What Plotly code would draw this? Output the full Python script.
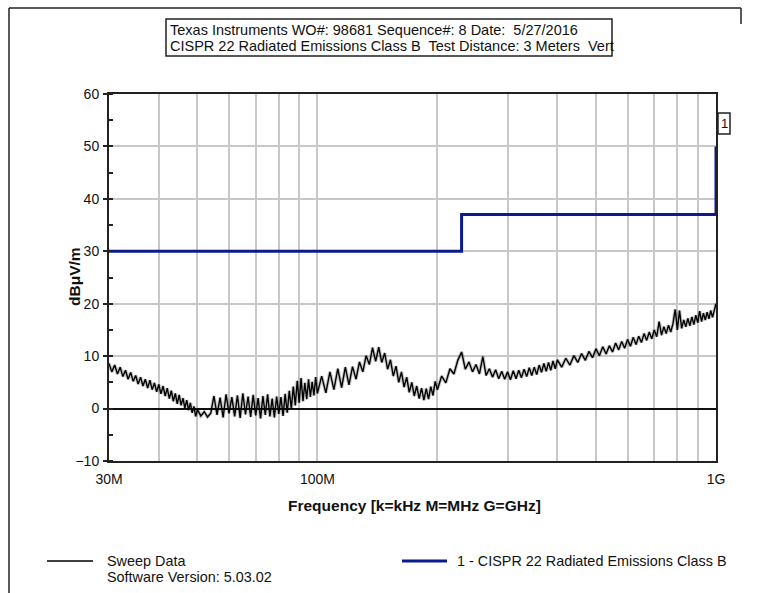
import plotly.graph_objects as go

# Sweep measurement (frequency in MHz, level in dBuV/m)
SWEEP_MHZ = [
    30.0, 30.5, 31.0, 31.5, 32.0, 32.5, 33.0, 33.5, 34.0, 34.5, 35.0, 35.5, 36.0, 36.5,
    37.0, 37.5, 38.0, 38.5, 39.0, 39.5, 40.0, 40.5, 41.0, 41.5, 42.0, 42.5, 43.0, 43.5,
    44.0, 44.5, 45.0, 45.5, 46.0, 46.5, 47.0, 47.5, 48.0, 48.5, 49.0, 49.5, 50.0,
    51, 52, 53, 54, 55, 56, 57, 58, 59, 60, 61, 62, 63, 64, 65, 66, 67, 68, 69, 70,
    71, 72, 73, 74, 75, 76, 77, 78, 79, 80, 81, 82, 83, 84, 85, 86, 87, 88, 89, 90,
    91, 92, 93, 94, 95, 96, 97, 98, 99, 100,
    102.5, 105, 107.5, 110, 112.5, 115, 117.5, 120, 122.5, 125, 127.5, 130, 132.5, 135,
    137.5, 140, 142.5, 145, 147.5, 150, 152.5, 155, 157.5, 160, 162.5, 165, 167.5, 170,
    172.5, 175, 177.5, 180, 182.5, 185, 187.5, 190, 192.5, 195, 197.5, 200,
    205, 210, 215, 220, 225, 230, 235, 240, 245, 250, 255, 260, 265, 270, 275, 280,
    285, 290, 295, 300, 305, 310, 315, 320, 325, 330, 335, 340, 345, 350, 355, 360,
    365, 370, 375, 380, 385, 390, 395, 400,
    410, 420, 430, 440, 450, 460, 470, 480, 490, 500, 510, 520, 530, 540, 550, 560,
    570, 580, 590, 600, 610, 620, 630, 640, 650, 660, 670, 680, 690, 700, 710, 720,
    730, 740, 750, 760, 770, 780, 790, 800, 810, 820, 830, 840, 850, 860, 870, 880,
    890, 900, 910, 920, 930, 940, 950, 960, 970, 980, 990, 1000,
]
SWEEP_DBUV = [
    8.6, 7.0, 8.3, 6.6, 7.9, 6.1, 7.3, 5.6, 6.9, 5.2, 6.3, 4.7, 6.0, 4.3,
    5.6, 3.9, 5.4, 3.6, 4.9, 3.2, 4.6, 2.8, 4.3, 2.4, 3.9, 1.9, 3.4, 1.4,
    2.9, 0.9, 2.6, 0.6, 2.0, 0.1, 1.6, -0.3, 1.1, -0.8, 0.4, -1.5, -0.2,
    -1.4, -0.6, -1.6, -0.9, 2.4, -1.2, 2.1, -1.7, 2.7, -0.9, 2.2, -1.5, 2.5, -1.8, 2.9,
    -1.1, 2.3, -1.6, 2.6, -1.3, 2.0, -1.9, 2.4, -1.2, 2.7, -1.5, 1.9, -1.7, 2.3, -1.0,
    2.2, -1.4, 2.8, -0.8, 3.4, 0.0, 4.2, 0.6, 5.3, 1.1, 5.8, 1.4, 4.9, 1.8, 5.6, 2.2,
    5.1, 2.5, 6.0, 2.9,
    6.2, 3.0, 7.0, 3.6, 7.6, 4.0, 7.9, 4.5, 8.0, 5.6, 8.9, 7.0, 10.1, 8.4,
    11.6, 9.0, 11.7, 8.8, 10.6, 7.5, 9.3, 6.2, 8.1, 5.0, 7.0, 4.1, 6.0, 3.1,
    5.0, 2.4, 4.3, 1.9, 3.9, 1.6, 3.8, 1.8, 4.2, 2.5, 5.2, 3.6,
    6.2, 4.9, 7.6, 6.6, 9.2, 10.8, 7.5, 8.9, 7.0, 8.4, 6.6, 9.9, 6.3, 7.6, 6.0, 7.4,
    5.7, 7.1, 5.6, 7.0, 5.5, 7.2, 5.7, 7.3, 5.9, 7.5, 6.1, 7.8, 6.3, 7.9, 6.5, 8.3,
    6.9, 8.6, 7.1, 8.8, 7.3, 9.1, 7.6, 9.3,
    7.9, 9.6, 8.3, 10.1, 8.8, 10.5, 9.2, 10.9, 9.7, 11.4, 10.1, 11.8, 10.4, 12.0, 10.8, 12.5,
    11.2, 12.8, 11.5, 13.2, 11.9, 13.6, 12.2, 13.8, 12.6, 14.3, 13.0, 14.6, 13.3, 15.0, 13.7, 16.6,
    14.0, 15.6, 14.3, 15.9, 14.6, 16.2, 18.9, 15.0, 18.7, 15.3, 16.9, 15.6, 17.2, 15.8, 17.5, 16.0,
    17.8, 16.4, 18.6, 16.6, 18.2, 16.9, 18.4, 17.1, 18.7, 17.4, 19.0, 20.0,
]

# CISPR 22 Class B radiated limit (3 m)
LIMIT_MHZ = [30, 230, 230, 1000, 1000]
LIMIT_DBUV = [30, 30, 37, 37, 50]

# Axis ticks / grid
GRID_MHZ = [30, 40, 50, 60, 70, 80, 90, 100, 200, 300, 400, 500, 600, 700, 800, 900, 1000]
TICK_LABELS = {30: "30M", 100: "100M", 1000: "1G"}

TITLE_LINES = [
    "Texas Instruments WO#: 98681 Sequence#: 8 Date:\u00a0 5/27/2016",
    "CISPR 22 Radiated Emissions Class B\u00a0 Test Distance: 3 Meters\u00a0 Vert",
]
LEGEND_SWEEP = "Sweep Data"
LEGEND_VERSION = "Software Version: 5.03.02"
LEGEND_LIMIT = "1 - CISPR 22 Radiated Emissions Class B"

FONT = "Arial, Liberation Sans, sans-serif"
NAVY = "#0b1a8e"

W, H = 758, 593
L, R, T, B = 109, 716, 94, 461
PW, PH = R - L, B - T


def px(x):
    return (x - L) / PW


def py(y):
    return (B - y) / PH


fig = go.Figure()
# soft halo under the sweep trace, then the trace itself
fig.add_trace(go.Scatter(x=SWEEP_MHZ, y=SWEEP_DBUV, mode="lines",
                         line=dict(color="rgba(0,0,0,0.22)", width=3.5), showlegend=False,
                         hoverinfo="skip"))
fig.add_trace(go.Scatter(x=SWEEP_MHZ, y=SWEEP_DBUV, mode="lines",
                         line=dict(color="black", width=1.4), showlegend=False))
fig.add_trace(go.Scatter(x=LIMIT_MHZ, y=LIMIT_DBUV, mode="lines",
                         line=dict(color=NAVY, width=3), showlegend=False,
                         cliponaxis=False))

shapes = []
annotations = []
line = dict(color="#222", width=1.5)

# outer page frame
shapes.append(dict(type="line", xref="paper", yref="paper", x0=px(9), x1=px(9),
                   y0=py(8), y1=py(600), line=line))
shapes.append(dict(type="line", xref="paper", yref="paper", x0=px(9), x1=px(741),
                   y0=py(8), y1=py(8), line=line))
shapes.append(dict(type="line", xref="paper", yref="paper", x0=px(741), x1=px(741),
                   y0=py(8), y1=py(24), line=line))

# title box
shapes.append(dict(type="rect", xref="paper", yref="paper", x0=px(166), x1=px(612),
                   y0=py(56), y1=py(19), line=dict(color="#222", width=1.5)))
for i, t in enumerate(TITLE_LINES):
    annotations.append(dict(text=t, xref="paper", yref="paper", x=px(168), y=py(30.5 + 15.5 * i),
                            xanchor="left", yanchor="middle", showarrow=False,
                            font=dict(family=FONT, size=14.5, color="#111")))

# limit line marker "1"
shapes.append(dict(type="line", xref="paper", yref="paper", x0=px(716), x1=px(718),
                   y0=py(123), y1=py(123), line=dict(color="#222", width=1.5)))
shapes.append(dict(type="rect", xref="paper", yref="paper", x0=px(718), x1=px(730),
                   y0=py(134), y1=py(113), line=dict(color="#222", width=1.5)))
annotations.append(dict(text="1", xref="paper", yref="paper", x=px(724), y=py(123.5),
                        xanchor="center", yanchor="middle", showarrow=False,
                        font=dict(family=FONT, size=13, color="#111")))

# axis titles
annotations.append(dict(text="<b>dBμV/m</b>", xref="paper", yref="paper", x=px(74), y=py(277),
                        textangle=-90, xanchor="center", yanchor="middle", showarrow=False,
                        font=dict(family=FONT, size=15.5, color="#111")))
annotations.append(dict(text="<b>Frequency [k=kHz M=MHz G=GHz]</b>", xref="paper", yref="paper",
                        x=px(414), y=py(505), xanchor="center", yanchor="middle", showarrow=False,
                        font=dict(family=FONT, size=15.5, color="#111")))

# legend
shapes.append(dict(type="line", xref="paper", yref="paper", x0=px(47), x1=px(93),
                   y0=py(561), y1=py(561), line=dict(color="black", width=1.5)))
shapes.append(dict(type="line", xref="paper", yref="paper", x0=px(402), x1=px(447),
                   y0=py(561), y1=py(561), line=dict(color=NAVY, width=3)))
for txt, x, y in [(LEGEND_SWEEP, 105, 561), (LEGEND_VERSION, 105, 577), (LEGEND_LIMIT, 455, 561)]:
    annotations.append(dict(text=txt, xref="paper", yref="paper", x=px(x), y=py(y),
                            xanchor="left", yanchor="middle", showarrow=False,
                            font=dict(family=FONT, size=14.4, color="#111")))

fig.update_layout(
    width=W, height=H,
    margin=dict(l=L, r=W - R, t=T, b=H - B, pad=0),
    paper_bgcolor="white", plot_bgcolor="white",
    font=dict(family=FONT, size=14, color="#111"),
    shapes=shapes, annotations=annotations, showlegend=False,
    xaxis=dict(
        type="log", range=[1.4771213, 3.0],
        tickvals=GRID_MHZ, ticktext=[TICK_LABELS.get(v, "") for v in GRID_MHZ],
        showgrid=True, gridcolor="#c8c8c8", gridwidth=1.5,
        showline=True, mirror=True, linecolor="#222", linewidth=2,
        ticks="", tickfont=dict(size=14), zeroline=False, ticklabelstandoff=4,
    ),
    yaxis=dict(
        range=[-10, 60], dtick=10, tick0=0,
        showgrid=True, gridcolor="#c8c8c8", gridwidth=1.5,
        showline=True, mirror=True, linecolor="#222", linewidth=2,
        ticks="outside", ticklen=4, tickwidth=1.5, tickcolor="#222",
        minor=dict(dtick=5, ticks="inside", ticklen=4, tickwidth=1.5, tickcolor="#222", showgrid=False),
        zeroline=True, zerolinecolor="#111", zerolinewidth=1.5,
        tickfont=dict(size=14), ticklabelstandoff=1,
    ),
)

fig.write_html("out.html")
